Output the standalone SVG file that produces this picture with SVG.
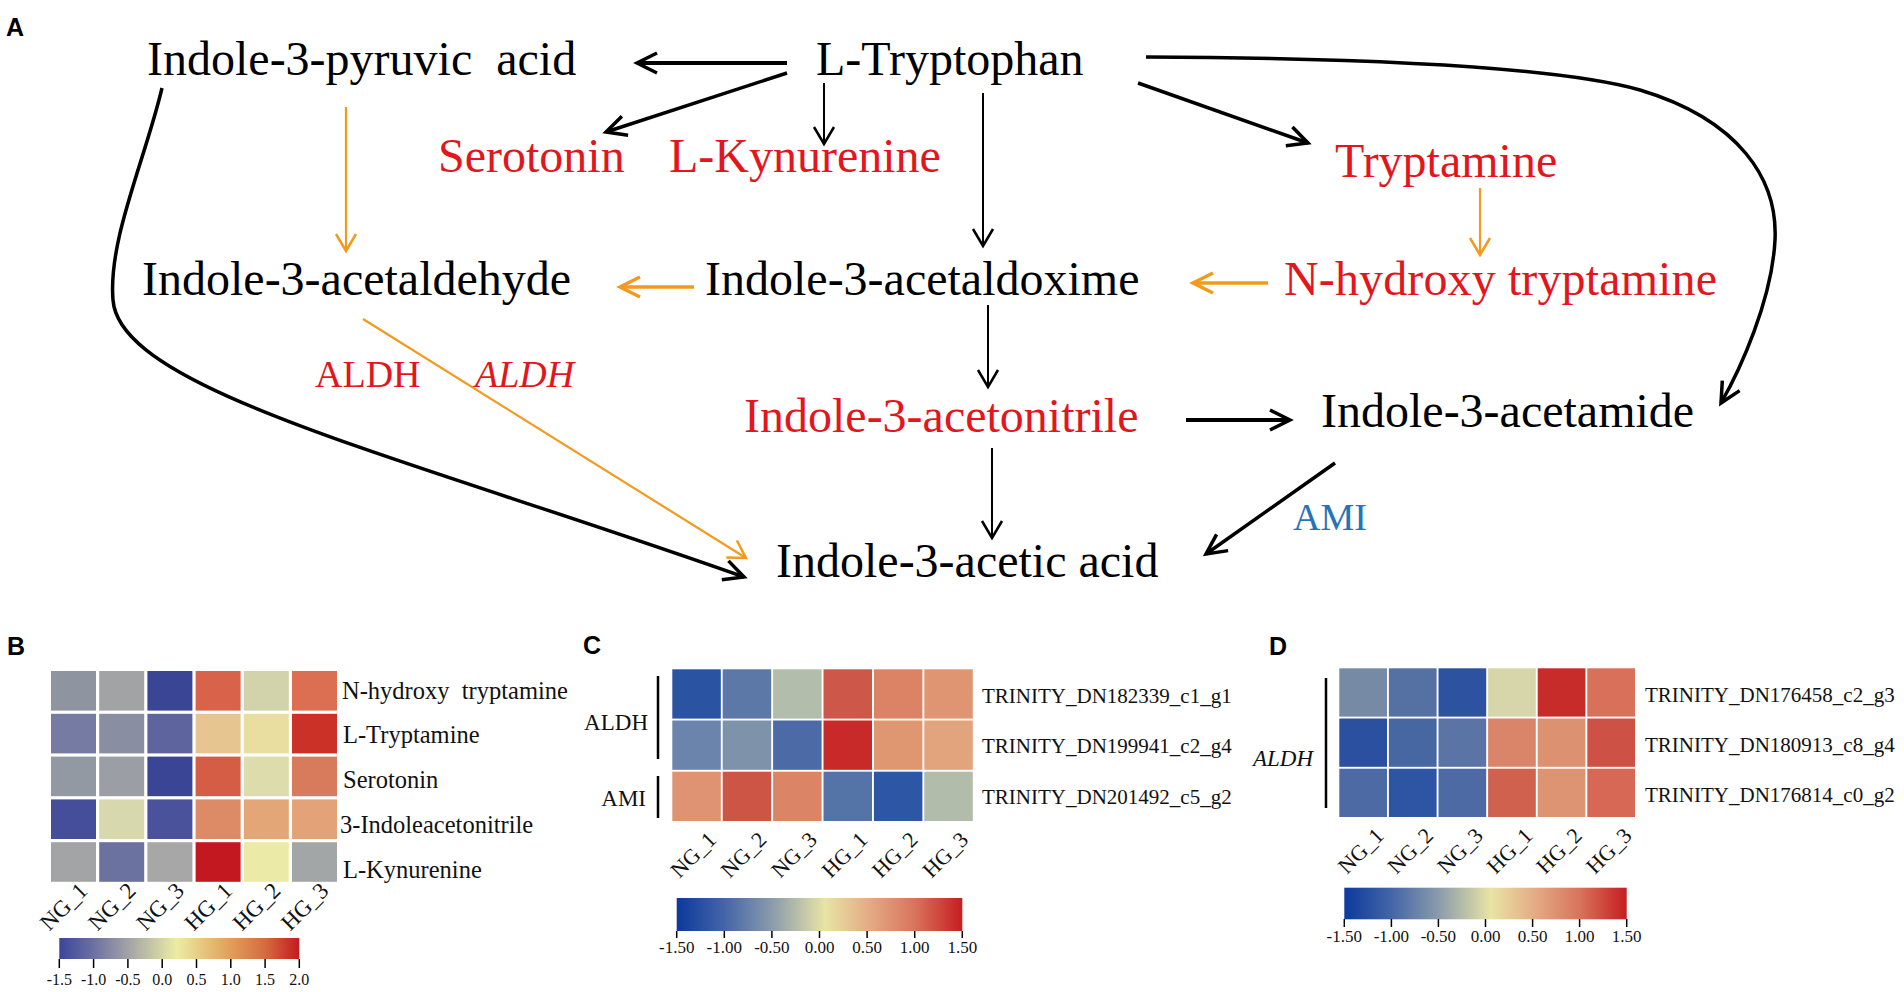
<svg xmlns="http://www.w3.org/2000/svg" width="1904" height="992" viewBox="0 0 1904 992">
<style>
.serif{font-family:"Liberation Serif","Times New Roman",serif}
.big{font-size:48px}
.red{fill:#e2161c}
.blk{fill:#000}
.enz{font-size:38px}
.panel{font-family:"Liberation Sans",Arial,sans-serif;font-weight:bold;font-size:25px;fill:#000}
.lb{font-size:24.5px;fill:#111}
.gl{font-size:21px;fill:#111}
.tk{font-size:17px;fill:#111;text-anchor:middle}
.tkb{font-size:16px;fill:#111;text-anchor:middle}
.c{fill:none;stroke-linecap:butt}
.k4{stroke:#000;stroke-width:4;marker-end:url(#ahK)}
.k35{stroke:#000;stroke-width:3.5;marker-end:url(#ahK)}
.k2{stroke:#000;stroke-width:2;marker-end:url(#ahk)}
.o35{stroke:#f39a1e;stroke-width:3.5;marker-end:url(#ahO)}
.o2{stroke:#f39a1e;stroke-width:2.2;marker-end:url(#aho)}
.bar{stroke:#000;stroke-width:2.5}
.tick{stroke:#000;stroke-width:1.5}
</style>
<defs>
<marker id="ahK" markerUnits="userSpaceOnUse" orient="auto" overflow="visible" markerWidth="1" markerHeight="1" refX="0" refY="0"><path d="M-20,-10 L0,0 L-20,10" fill="none" stroke="#000" stroke-width="3.5"/></marker>
<marker id="ahk" markerUnits="userSpaceOnUse" orient="auto" overflow="visible" markerWidth="1" markerHeight="1" refX="0" refY="0"><path d="M-17,-10 L0,0 L-17,10" fill="none" stroke="#000" stroke-width="2.5"/></marker>
<marker id="ahO" markerUnits="userSpaceOnUse" orient="auto" overflow="visible" markerWidth="1" markerHeight="1" refX="0" refY="0"><path d="M-20,-10 L0,0 L-20,10" fill="none" stroke="#f39a1e" stroke-width="3.5"/></marker>
<marker id="aho" markerUnits="userSpaceOnUse" orient="auto" overflow="visible" markerWidth="1" markerHeight="1" refX="0" refY="0"><path d="M-17,-10 L0,0 L-17,10" fill="none" stroke="#f39a1e" stroke-width="2.5"/></marker>
<linearGradient id="gB" x1="0" y1="0" x2="1" y2="0">
<stop offset="0" stop-color="#3b4599"/><stop offset="0.14" stop-color="#6a70a3"/><stop offset="0.29" stop-color="#a4a4a6"/><stop offset="0.49" stop-color="#ececa3"/><stop offset="0.71" stop-color="#e1a05a"/><stop offset="0.86" stop-color="#d56a40"/><stop offset="1" stop-color="#c41a1d"/>
</linearGradient>
<linearGradient id="gCD" x1="0" y1="0" x2="1" y2="0">
<stop offset="0" stop-color="#0b3a9c"/><stop offset="0.167" stop-color="#4465a7"/><stop offset="0.333" stop-color="#8a9bab"/><stop offset="0.52" stop-color="#e8e4a4"/><stop offset="0.667" stop-color="#e4ae86"/><stop offset="0.833" stop-color="#d8745c"/><stop offset="1" stop-color="#c61d21"/>
</linearGradient>
</defs>
<rect width="1904" height="992" fill="#fff"/>

<!-- Panel A -->
<text class="panel" x="6" y="36">A</text>
<g id="connectors">
<path class="c k4" d="M787,63 L637,63"/>
<path class="c k35" d="M787,73 L606,132"/>
<path class="c k2" d="M824,83 L824,144"/>
<path class="c k2" d="M983,93 L983,246"/>
<path class="c k35" d="M1138,83 L1308,143"/>
<path class="c k35" d="M1146,57 C1350,58 1550,65 1640,90 C1740,120 1778,180 1775,240 C1772,300 1740,370 1721,403"/>
<path class="c k35" d="M162,88 C145,160 108,240 113,300 C120,390 400,455 744,577"/>
<path class="c o2" d="M346,107 L346,251"/>
<path class="c o35" d="M694,287 L620,287"/>
<path class="c o35" d="M1268,283 L1193,283"/>
<path class="c o2" d="M1480,188 L1480,255"/>
<path class="c o2" d="M363,319 L746,558"/>
<path class="c k2" d="M988,305 L988,387"/>
<path class="c k4" d="M1186,420 L1290,420"/>
<path class="c k2" d="M992,448 L992,538"/>
<path class="c k35" d="M1335,463 L1206,554"/>
</g>
<g id="n-pyruvic"><text class="serif big blk" x="147" y="75">Indole-3-pyruvic&#160; acid</text></g>
<g id="n-trp"><text class="serif big blk" x="816" y="75">L-Tryptophan</text></g>
<g id="n-serotonin"><text class="serif big red" x="438" y="172">Serotonin</text></g>
<g id="n-kyn"><text class="serif big red" x="669" y="172">L-Kynurenine</text></g>
<g id="n-tryptamine"><text class="serif big red" x="1335" y="177">Tryptamine</text></g>
<g id="n-aldehyde"><text class="serif big blk" x="142" y="295">Indole-3-acetaldehyde</text></g>
<g id="n-oxime"><text class="serif big blk" x="705" y="295">Indole-3-acetaldoxime</text></g>
<g id="n-nhydroxy"><text class="serif big red" x="1284" y="295" textLength="433">N-hydroxy tryptamine</text></g>
<g id="n-nitrile"><text class="serif big red" x="744" y="432">Indole-3-acetonitrile</text></g>
<g id="n-acetamide"><text class="serif big blk" x="1321" y="427">Indole-3-acetamide</text></g>
<g id="n-iaa"><text class="serif big blk" x="776" y="577">Indole-3-acetic acid</text></g>
<g id="lbl-aldh1"><text class="serif enz red" x="315" y="387">ALDH</text></g>
<g id="lbl-aldh2"><text class="serif enz red" x="475" y="387" font-style="italic">ALDH</text></g>
<g id="lbl-ami"><text class="serif enz" x="1293" y="530" fill="#2573b8">AMI</text></g>

<!-- Panel B -->
<g id="panelB">
<text class="panel" x="7" y="655">B</text>
<g id="B-cells">
<rect x="51" y="671" width="45" height="39.6" fill="#8e95a0"/><rect x="99.2" y="671" width="45" height="39.6" fill="#a1a3a4"/><rect x="147.4" y="671" width="45" height="39.6" fill="#3b4596"/><rect x="195.6" y="671" width="45" height="39.6" fill="#d9624a"/><rect x="243.8" y="671" width="45" height="39.6" fill="#d2d3ab"/><rect x="292" y="671" width="45" height="39.6" fill="#dc6f52"/>
<rect x="51" y="713.8" width="45" height="39.6" fill="#757ba3"/><rect x="99.2" y="713.8" width="45" height="39.6" fill="#898ea3"/><rect x="147.4" y="713.8" width="45" height="39.6" fill="#5e659e"/><rect x="195.6" y="713.8" width="45" height="39.6" fill="#e6c590"/><rect x="243.8" y="713.8" width="45" height="39.6" fill="#e9dda0"/><rect x="292" y="713.8" width="45" height="39.6" fill="#cb3127"/>
<rect x="51" y="756.6" width="45" height="39.6" fill="#9399a3"/><rect x="99.2" y="756.6" width="45" height="39.6" fill="#9b9fa5"/><rect x="147.4" y="756.6" width="45" height="39.6" fill="#3b4596"/><rect x="195.6" y="756.6" width="45" height="39.6" fill="#d55c45"/><rect x="243.8" y="756.6" width="45" height="39.6" fill="#dcdcad"/><rect x="292" y="756.6" width="45" height="39.6" fill="#d87a5c"/>
<rect x="51" y="799.4" width="45" height="39.6" fill="#444e9b"/><rect x="99.2" y="799.4" width="45" height="39.6" fill="#d8d8ae"/><rect x="147.4" y="799.4" width="45" height="39.6" fill="#4a529b"/><rect x="195.6" y="799.4" width="45" height="39.6" fill="#dd8b66"/><rect x="243.8" y="799.4" width="45" height="39.6" fill="#e3a676"/><rect x="292" y="799.4" width="45" height="39.6" fill="#e3a277"/>
<rect x="51" y="842.2" width="45" height="39.6" fill="#a3a4a5"/><rect x="99.2" y="842.2" width="45" height="39.6" fill="#6b72a0"/><rect x="147.4" y="842.2" width="45" height="39.6" fill="#a6a7a6"/><rect x="195.6" y="842.2" width="45" height="39.6" fill="#c3181f"/><rect x="243.8" y="842.2" width="45" height="39.6" fill="#ebeaa6"/><rect x="292" y="842.2" width="45" height="39.6" fill="#a3a6a7"/>
</g>
<g class="serif lb">
<text x="342" y="699">N-hydroxy&#160; tryptamine</text>
<text x="343" y="743">L-Tryptamine</text>
<text x="343" y="788">Serotonin</text>
<text x="340" y="833">3-Indoleacetonitrile</text>
<text x="343" y="878">L-Kynurenine</text>
</g>
<g class="serif" font-size="23" fill="#111" text-anchor="end">
<text x="89" y="892" transform="rotate(-45 89 892)">NG_1</text>
<text x="137.2" y="892" transform="rotate(-45 137.2 892)">NG_2</text>
<text x="185.4" y="892" transform="rotate(-45 185.4 892)">NG_3</text>
<text x="233.6" y="892" transform="rotate(-45 233.6 892)">HG_1</text>
<text x="281.8" y="892" transform="rotate(-45 281.8 892)">HG_2</text>
<text x="330" y="892" transform="rotate(-45 330 892)">HG_3</text>
</g>
<rect x="59.3" y="938" width="240" height="21" fill="url(#gB)"/>
<g class="tick">
<line x1="59.3" y1="959" x2="59.3" y2="968"/><line x1="93.6" y1="959" x2="93.6" y2="968"/><line x1="127.9" y1="959" x2="127.9" y2="968"/><line x1="162.2" y1="959" x2="162.2" y2="968"/><line x1="196.5" y1="959" x2="196.5" y2="968"/><line x1="230.8" y1="959" x2="230.8" y2="968"/><line x1="265.1" y1="959" x2="265.1" y2="968"/><line x1="299.3" y1="959" x2="299.3" y2="968"/>
</g>
<g class="serif tkb">
<text x="59.3" y="985">-1.5</text><text x="93.6" y="985">-1.0</text><text x="127.9" y="985">-0.5</text><text x="162.2" y="985">0.0</text><text x="196.5" y="985">0.5</text><text x="230.8" y="985">1.0</text><text x="265.1" y="985">1.5</text><text x="299.3" y="985">2.0</text>
</g>
</g>

<!-- Panel C -->
<g id="panelC">
<text class="panel" x="583" y="654">C</text>
<g id="C-cells">
<rect x="672.3" y="669.3" width="48.5" height="49.3" fill="#2a53a2"/><rect x="722.7" y="669.3" width="48.5" height="49.3" fill="#5b78a7"/><rect x="773.1" y="669.3" width="48.5" height="49.3" fill="#b3bdac"/><rect x="823.5" y="669.3" width="48.5" height="49.3" fill="#cd5748"/><rect x="873.9" y="669.3" width="48.5" height="49.3" fill="#dc8366"/><rect x="924.3" y="669.3" width="48.5" height="49.3" fill="#df9571"/>
<rect x="672.3" y="720.5" width="48.5" height="49.3" fill="#6a84ab"/><rect x="722.7" y="720.5" width="48.5" height="49.3" fill="#7e93aa"/><rect x="773.1" y="720.5" width="48.5" height="49.3" fill="#4c6aa5"/><rect x="823.5" y="720.5" width="48.5" height="49.3" fill="#c82a2a"/><rect x="873.9" y="720.5" width="48.5" height="49.3" fill="#de9770"/><rect x="924.3" y="720.5" width="48.5" height="49.3" fill="#e1a47d"/>
<rect x="672.3" y="771.7" width="48.5" height="49.3" fill="#df9372"/><rect x="722.7" y="771.7" width="48.5" height="49.3" fill="#cd5545"/><rect x="773.1" y="771.7" width="48.5" height="49.3" fill="#dc8466"/><rect x="823.5" y="771.7" width="48.5" height="49.3" fill="#5474a8"/><rect x="873.9" y="771.7" width="48.5" height="49.3" fill="#2d57a4"/><rect x="924.3" y="771.7" width="48.5" height="49.3" fill="#b1bcab"/>
</g>
<line class="bar" x1="658" y1="676" x2="658" y2="759"/>
<line class="bar" x1="658" y1="776" x2="658" y2="818"/>
<text class="serif" font-size="23" fill="#111" x="648" y="730" text-anchor="end">ALDH</text>
<text class="serif" font-size="23" fill="#111" x="646" y="806" text-anchor="end">AMI</text>
<g class="serif gl">
<text x="982" y="703">TRINITY_DN182339_c1_g1</text>
<text x="982" y="753">TRINITY_DN199941_c2_g4</text>
<text x="982" y="804">TRINITY_DN201492_c5_g2</text>
</g>
<g class="serif" font-size="22" fill="#111" text-anchor="end">
<text x="717.5" y="841" transform="rotate(-45 717.5 841)">NG_1</text>
<text x="767.9" y="841" transform="rotate(-45 767.9 841)">NG_2</text>
<text x="818.3" y="841" transform="rotate(-45 818.3 841)">NG_3</text>
<text x="868.7" y="841" transform="rotate(-45 868.7 841)">HG_1</text>
<text x="919.1" y="841" transform="rotate(-45 919.1 841)">HG_2</text>
<text x="969.5" y="841" transform="rotate(-45 969.5 841)">HG_3</text>
</g>
<rect x="676.7" y="898" width="285.6" height="33" fill="url(#gCD)"/>
<g class="tick">
<line x1="676.7" y1="931" x2="676.7" y2="938"/><line x1="724.3" y1="931" x2="724.3" y2="938"/><line x1="771.9" y1="931" x2="771.9" y2="938"/><line x1="819.5" y1="931" x2="819.5" y2="938"/><line x1="867.1" y1="931" x2="867.1" y2="938"/><line x1="914.7" y1="931" x2="914.7" y2="938"/><line x1="962.3" y1="931" x2="962.3" y2="938"/>
</g>
<g class="serif tk">
<text x="676.7" y="953">-1.50</text><text x="724.3" y="953">-1.00</text><text x="771.9" y="953">-0.50</text><text x="819.5" y="953">0.00</text><text x="867.1" y="953">0.50</text><text x="914.7" y="953">1.00</text><text x="962.3" y="953">1.50</text>
</g>
</g>

<!-- Panel D -->
<g id="panelD">
<text class="panel" x="1269" y="655">D</text>
<g id="D-cells">
<rect x="1339.3" y="668.3" width="47.7" height="48.3" fill="#778aa5"/><rect x="1388.9" y="668.3" width="47.7" height="48.3" fill="#5571a3"/><rect x="1438.5" y="668.3" width="47.7" height="48.3" fill="#2c52a0"/><rect x="1488.1" y="668.3" width="47.7" height="48.3" fill="#d6d6aa"/><rect x="1537.7" y="668.3" width="47.7" height="48.3" fill="#c72b2a"/><rect x="1587.3" y="668.3" width="47.7" height="48.3" fill="#d9705a"/>
<rect x="1339.3" y="718.5" width="47.7" height="48.3" fill="#2b50a0"/><rect x="1388.9" y="718.5" width="47.7" height="48.3" fill="#4767a2"/><rect x="1438.5" y="718.5" width="47.7" height="48.3" fill="#5a75a5"/><rect x="1488.1" y="718.5" width="47.7" height="48.3" fill="#da8569"/><rect x="1537.7" y="718.5" width="47.7" height="48.3" fill="#dc9170"/><rect x="1587.3" y="718.5" width="47.7" height="48.3" fill="#cd5144"/>
<rect x="1339.3" y="768.7" width="47.7" height="48.3" fill="#4d6aa5"/><rect x="1388.9" y="768.7" width="47.7" height="48.3" fill="#2d55a3"/><rect x="1438.5" y="768.7" width="47.7" height="48.3" fill="#4d6aa5"/><rect x="1488.1" y="768.7" width="47.7" height="48.3" fill="#d0614e"/><rect x="1537.7" y="768.7" width="47.7" height="48.3" fill="#dd9472"/><rect x="1587.3" y="768.7" width="47.7" height="48.3" fill="#d66855"/>
</g>
<line class="bar" x1="1326" y1="678" x2="1326" y2="808"/>
<text class="serif" font-size="23" font-style="italic" fill="#111" x="1313" y="766" text-anchor="end">ALDH</text>
<g class="serif gl">
<text x="1645" y="702">TRINITY_DN176458_c2_g3</text>
<text x="1645" y="752">TRINITY_DN180913_c8_g4</text>
<text x="1645" y="802">TRINITY_DN176814_c0_g2</text>
</g>
<g class="serif" font-size="22" fill="#111" text-anchor="end">
<text x="1385" y="837" transform="rotate(-45 1385 837)">NG_1</text>
<text x="1434.6" y="837" transform="rotate(-45 1434.6 837)">NG_2</text>
<text x="1484.2" y="837" transform="rotate(-45 1484.2 837)">NG_3</text>
<text x="1533.8" y="837" transform="rotate(-45 1533.8 837)">HG_1</text>
<text x="1583.4" y="837" transform="rotate(-45 1583.4 837)">HG_2</text>
<text x="1633" y="837" transform="rotate(-45 1633 837)">HG_3</text>
</g>
<rect x="1344.3" y="887.7" width="282.4" height="31.6" fill="url(#gCD)"/>
<g class="tick">
<line x1="1344.3" y1="919" x2="1344.3" y2="927"/><line x1="1391.4" y1="919" x2="1391.4" y2="927"/><line x1="1438.4" y1="919" x2="1438.4" y2="927"/><line x1="1485.5" y1="919" x2="1485.5" y2="927"/><line x1="1532.6" y1="919" x2="1532.6" y2="927"/><line x1="1579.6" y1="919" x2="1579.6" y2="927"/><line x1="1626.7" y1="919" x2="1626.7" y2="927"/>
</g>
<g class="serif tk">
<text x="1344.3" y="942">-1.50</text><text x="1391.4" y="942">-1.00</text><text x="1438.4" y="942">-0.50</text><text x="1485.5" y="942">0.00</text><text x="1532.6" y="942">0.50</text><text x="1579.6" y="942">1.00</text><text x="1626.7" y="942">1.50</text>
</g>
</g>
</svg>
